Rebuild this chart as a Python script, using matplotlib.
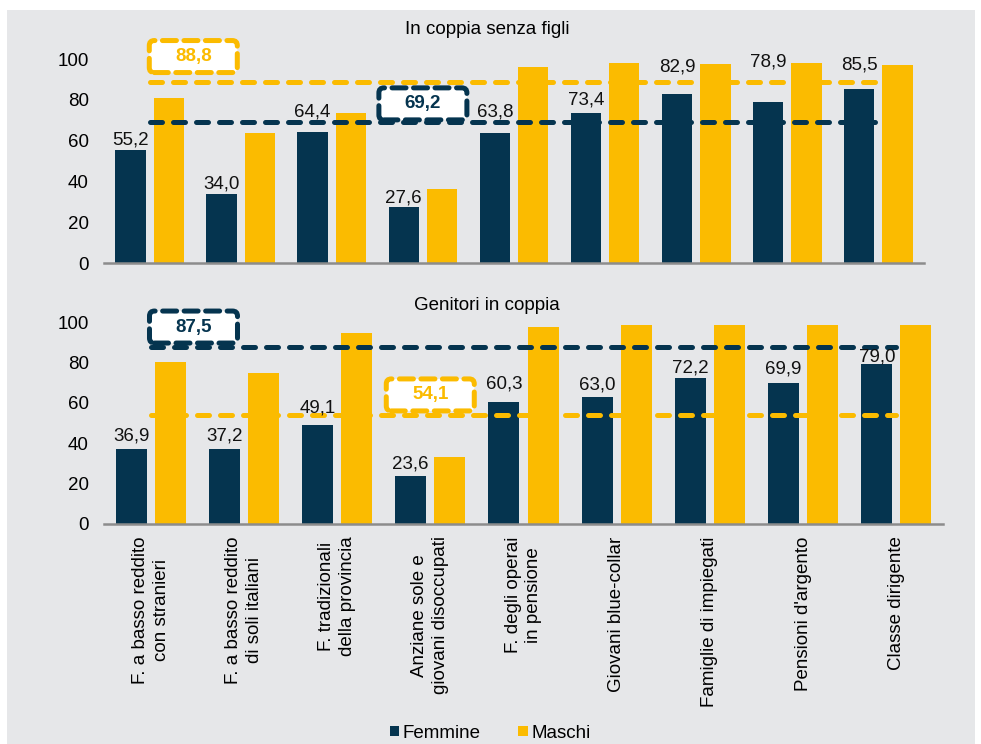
import matplotlib
matplotlib.use("Agg")
import matplotlib.pyplot as plt
from matplotlib.patches import FancyBboxPatch, Rectangle, Patch
from matplotlib.transforms import ScaledTranslation

plt.rcParams['font.family'] = ['Liberation Sans', 'DejaVu Sans']

categories = ["F. a basso reddito\ncon stranieri", "F. a basso reddito\ndi soli italiani",
              "F. tradizionali\ndella provincia", "Anziane sole e\ngiovani disoccupati",
              "F. degli operai\nin pensione", "Giovani blue-collar", "Famiglie di impiegati",
              "Pensioni d'argento", "Classe dirigente"]

top_title = "In coppia senza figli"
top_femmine = [55.2, 34.0, 64.4, 27.6, 63.8, 73.4, 82.9, 78.9, 85.5]
top_maschi = [80.7, 63.9, 73.5, 36.3, 96.2, 98.2, 97.4, 98.2, 97.1]
top_avg_femmine = 69.2
top_avg_maschi = 88.8

bot_title = "Genitori in coppia"
bot_femmine = [36.9, 37.2, 49.1, 23.6, 60.3, 63.0, 72.2, 69.9, 79.0]
bot_maschi = [80.3, 74.9, 94.7, 33.0, 97.7, 98.5, 98.5, 98.5, 98.5]
bot_avg_femmine = 87.5
bot_avg_maschi = 54.1

NAVY = "#05344f"
YELLOW = "#fbbb00"
BG = "#e6e7e9"
FS = 13.5

W, H = 981, 744
fig = plt.figure(figsize=(W / 100, H / 100), dpi=100, facecolor="white")
fig.patches.append(Rectangle((7 / W, 0), (975 - 7) / W, (734) / H, transform=fig.transFigure,
                             facecolor=BG, edgecolor="none", zorder=-10))

def px_axes(l, r, b, t):
    return fig.add_axes([l / W, 1 - b / H, (r - l) / W, (b - t) / H])

ax1 = px_axes(104, 924, 263, 59)
ax2 = px_axes(104, 943, 524, 322)

def fmt(v):
    return f"{v:.1f}".replace(".", ",")

def box(ax, x, y, text, color, w=0.88, h=0.32):
    trans = fig.dpi_scale_trans + ScaledTranslation(x, y, ax.transData)
    p = FancyBboxPatch((-w / 2, -h / 2), w, h, boxstyle="round,pad=0,rounding_size=0.05",
                       transform=trans, facecolor="white", edgecolor=color, linewidth=3.6,
                       linestyle=(0, (2.8, 1.5)), clip_on=False, zorder=6)
    p.set_capstyle("round")
    ax.add_patch(p)
    ax.text(x, y, text, ha="center", va="center", color=color, fontsize=FS,
            fontweight="bold", zorder=7, clip_on=False)

def panel(ax, fem, mas, lab_y, avg_f, avg_m, box_f, box_m, show_x):
    n = len(fem)
    xs = list(range(n))
    bw = 0.333
    off = 0.21
    ax.bar([x - off for x in xs], fem, width=bw, color=NAVY, zorder=2)
    ax.bar([x + off for x in xs], mas, width=bw, color=YELLOW, zorder=2)
    ax.set_xlim(-0.5, n - 0.5)
    ax.set_ylim(0, 100)
    for x, v, ly in zip(xs, fem, lab_y):
        ax.text(x - off, ly, fmt(v), ha="center", va="center", fontsize=FS, color="#111111",
                zorder=5, clip_on=False)
    ls = (0, (2.4, 2.2))
    ax.plot([0, n - 1], [avg_m, avg_m], color=YELLOW, lw=3.6, linestyle=ls,
            dash_capstyle="round", zorder=4, clip_on=False)
    ax.plot([0, n - 1], [avg_f, avg_f], color=NAVY, lw=3.6, linestyle=ls,
            dash_capstyle="round", zorder=4, clip_on=False)
    box(ax, box_f[0], box_f[1], fmt(avg_f), NAVY)
    box(ax, box_m[0], box_m[1], fmt(avg_m), YELLOW)
    ax.set_facecolor("none")
    for s in ["top", "right", "left"]:
        ax.spines[s].set_visible(False)
    ax.spines["bottom"].set_color("#8c8c8c")
    ax.spines["bottom"].set_linewidth(1.8)
    ax.set_yticks([0, 20, 40, 60, 80, 100])
    ax.tick_params(axis="y", length=0, pad=11, labelsize=FS)
    ax.set_xticks(xs)
    if show_x:
        ax.set_xticklabels(categories, rotation=90, ha="center", va="top",
                           multialignment="center", fontsize=FS, linespacing=1.3)
        ax.tick_params(axis="x", length=0, pad=9)
    else:
        ax.set_xticklabels([])
        ax.tick_params(axis="x", length=0)

panel(ax1, top_femmine, top_maschi,
      [60.3, 38.7, 73.9, 31.9, 73.9, 79.7, 96.0, 98.3, 97.3],
      top_avg_femmine, top_avg_maschi, (3.0, 78.0), (0.48, 101.2), False)
panel(ax2, bot_femmine, bot_maschi,
      [43.5, 43.5, 57.4, 29.8, 69.5, 68.8, 77.2, 76.7, 82.6],
      bot_avg_femmine, bot_avg_maschi, (0.46, 97.5), (3.0, 63.9), True)

fig.text(487 / W, 1 - 30 / H, top_title, ha="center", va="center", fontsize=FS)
fig.text(487 / W, 1 - 305 / H, bot_title, ha="center", va="center", fontsize=FS)

handles = [Patch(facecolor=NAVY, label="Femmine"), Patch(facecolor=YELLOW, label="Maschi")]
fig.legend(handles=handles, loc="center", bbox_to_anchor=(490 / W, 1 - 733 / H), ncol=2,
           frameon=False, fontsize=FS, handlelength=0.5, handleheight=0.5,
           handletextpad=0.2, columnspacing=2.0, borderaxespad=0)

fig.savefig("out.png", dpi=100, facecolor="white")
